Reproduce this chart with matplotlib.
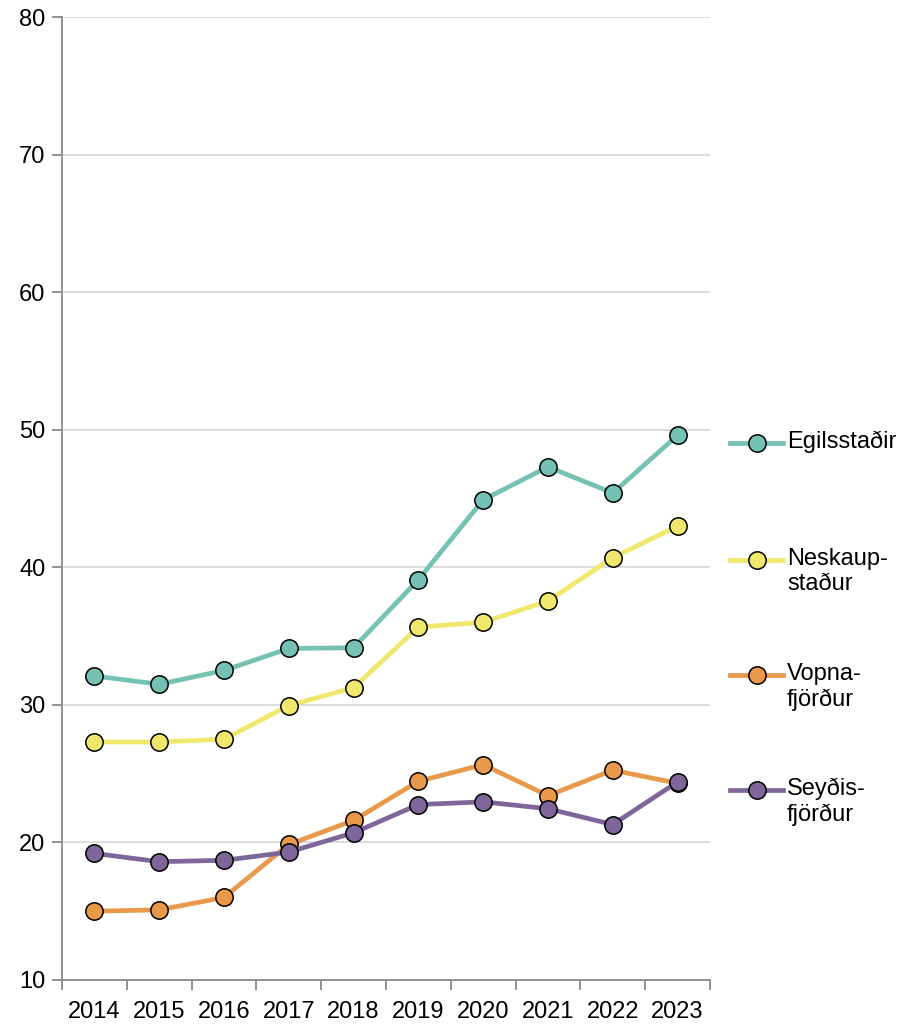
import matplotlib
matplotlib.use("Agg")
import matplotlib.pyplot as plt
from matplotlib.lines import Line2D
import numpy as np

plt.rcParams['font.family'] = ['Liberation Sans', 'DejaVu Sans']

years = ['2014', '2015', '2016', '2017', '2018', '2019', '2020', '2021', '2022', '2023']

egilsstadir = [32.1, 31.5, 32.5, 34.1, 34.15, 39.1, 44.9, 47.3, 45.4, 49.6]
neskaupstadur = [27.3, 27.3, 27.5, 29.95, 31.25, 35.65, 36.0, 37.55, 40.7, 43.0]
vopnafjordur = [15.0, 15.1, 16.0, 19.85, 21.6, 24.45, 25.65, 23.4, 25.25, 24.3]
seydisfjordur = [19.2, 18.6, 18.7, 19.3, 20.7, 22.75, 22.95, 22.45, 21.3, 24.4]

series = [
    ('Egilsstaðir', egilsstadir, '#75C1B4'),
    ('Neskaup-\nstaður', neskaupstadur, '#EFE86C'),
    ('Vopna-\nfjörður', vopnafjordur, '#E8994A'),
    ('Seyðis-\nfjörður', seydisfjordur, '#7E669B'),
]

W, H = 904, 1025
fig = plt.figure(figsize=(W / 100, H / 100), dpi=100)
ax = fig.add_axes([62 / W, 1 - 980 / H, (710 - 62) / W, (980 - 17) / H])

x = np.arange(len(years))
for label, vals, color in series:
    ax.plot(x, vals, color=color, lw=3.4, marker='o', ms=12.5,
            mfc=color, mec='black', mew=1.1, zorder=3)

ax.set_xlim(-0.5, len(years) - 0.5)
ax.set_ylim(10, 80)
ax.set_yticks(np.arange(10, 81, 10))
ax.yaxis.grid(True, color='#D9D9D9', lw=1.3)
ax.set_axisbelow(True)

# category boundaries as major ticks, labels centred on categories
ax.set_xticks(np.arange(-0.5, len(years), 1.0))
ax.set_xticklabels([])
ax.set_xticks(x, minor=True)
ax.set_xticklabels(years, minor=True)
ax.tick_params(axis='x', which='major', length=7, width=1.3, color='#898989')
ax.tick_params(axis='x', which='minor', length=0, pad=15, labelsize=17)
ax.tick_params(axis='y', length=7, width=1.3, color='#898989', labelsize=17, pad=5)

for side in ['top', 'right']:
    ax.spines[side].set_visible(False)
for side in ['left', 'bottom']:
    ax.spines[side].set_color('#898989')
    ax.spines[side].set_linewidth(1.3)

# legend drawn beside the plot, handle aligned with the first text line
legend_y = [443, 560, 675, 790]
for (label, vals, color), yy in zip(series, legend_y):
    yf = 1 - yy / H
    fig.add_artist(Line2D([730 / W, 783 / W], [yf, yf], color=color, lw=3.4,
                          transform=fig.transFigure))
    fig.add_artist(Line2D([757 / W], [yf], color=color, marker='o', ms=12.5,
                          mfc=color, mec='black', mew=1.1,
                          transform=fig.transFigure))
    fig.text(787 / W, yf + 12 / H, label, fontsize=17, va='top', ha='left',
             linespacing=1.2)

fig.savefig('out.png', dpi=100)
